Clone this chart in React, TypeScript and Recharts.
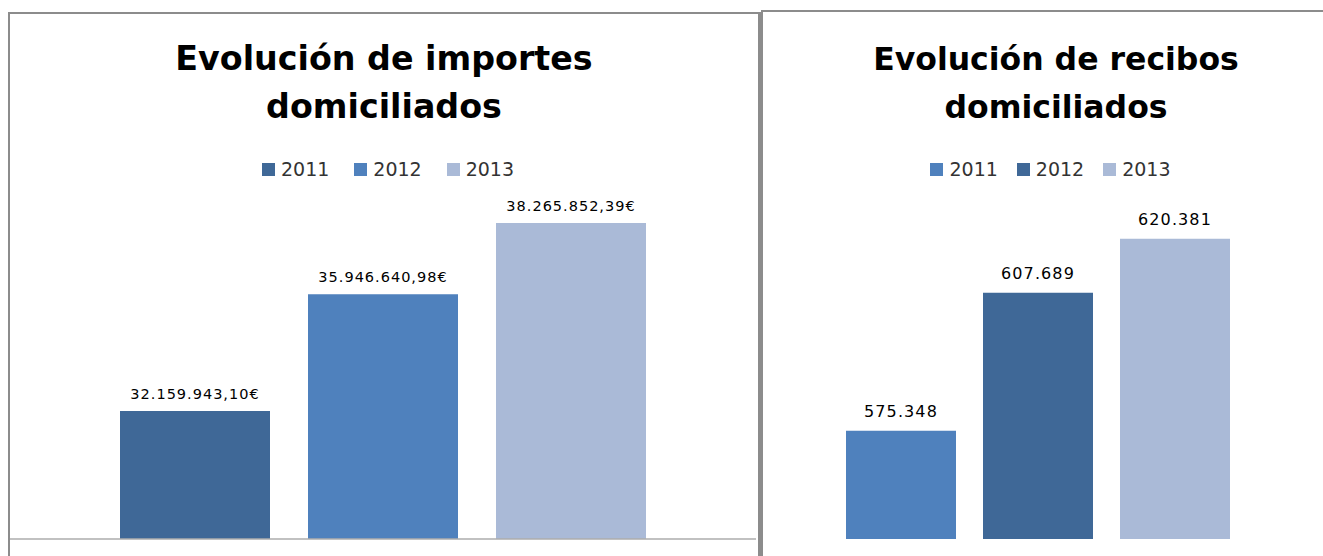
import React from 'react';
import { BarChart, Bar, XAxis, YAxis, Legend, LabelList } from 'recharts';

const years = ['2011', '2012', '2013'];
const importes = [32159943.1, 35946640.98, 38265852.39];
const recibos = [575348, 607689, 620381];
const importesColors = ['#3F6897', '#4F81BD', '#AABAD7'];
const recibosColors = ['#4F81BD', '#3F6897', '#AABAD7'];
const importesDomain = [28000000, 40000000];
const recibosDomain = [550000, 640000];
const titleImportes = ['Evolución de importes', 'domiciliados'];
const titleRecibos = ['Evolución de recibos', 'domiciliados'];

function fmtEs(v: number, decimals: number): string {
  const s = v.toFixed(decimals);
  const [int, dec] = s.split('.');
  const withDots = int.replace(/\B(?=(\d{3})+(?!\d))/g, '.');
  return dec ? withDots + ',' + dec : withDots;
}

function buildRow(values: number[]) {
  const row: Record<string, number | string> = { cat: '' };
  years.forEach((y, i) => {
    row['y' + y] = values[i];
  });
  return [row];
}

const FONT = '"DejaVu Sans", sans-serif';

function LegendBox({ colors, gap }: { colors: string[]; gap: number }) {
  return (
    <div
      style={{
        display: 'flex',
        justifyContent: 'center',
        alignItems: 'center',
        height: 22,
        fontFamily: FONT,
        fontSize: 19,
        color: '#333333',
      }}
    >
      {years.map((y, i) => (
        <div
          key={y}
          style={{ display: 'flex', alignItems: 'center', marginLeft: i === 0 ? 0 : gap }}
        >
          <div style={{ width: 13, height: 13, background: colors[i], marginRight: 6 }} />
          <span style={{ lineHeight: '22px' }}>{y}</span>
        </div>
      ))}
    </div>
  );
}

function Title({
  lines,
  top,
  padRight,
  fontSize,
}: {
  lines: string[];
  top: number;
  padRight: number;
  fontSize: number;
}) {
  return (
    <div
      style={{
        position: 'absolute',
        left: 0,
        top,
        width: '100%',
        boxSizing: 'border-box',
        paddingRight: padRight,
        textAlign: 'center',
        fontFamily: FONT,
        fontWeight: 'bold',
        fontSize,
        lineHeight: '48px',
        color: '#000',
        whiteSpace: 'nowrap',
      }}
    >
      {lines.map((l) => (
        <div key={l}>{l}</div>
      ))}
    </div>
  );
}

export default function App() {
  const leftData = buildRow(importes);
  const rightData = buildRow(recibos);
  return (
    <div
      style={{
        position: 'absolute',
        left: 0,
        top: 0,
        width: 1323,
        height: 556,
        overflow: 'hidden',
        background: '#fff',
      }}
    >
      {/* Left chart box */}
      <div
        style={{
          position: 'absolute',
          left: 8,
          top: 12,
          width: 753,
          height: 560,
          boxSizing: 'border-box',
          borderLeft: '2px solid #8C8C8C',
          borderTop: '2px solid #8C8C8C',
          borderRight: '3px solid #8C8C8C',
        }}
      >
        <Title lines={titleImportes} top={20.6} padRight={0} fontSize={33.3} />
        <div style={{ position: 'absolute', left: 0, top: 0 }}>
          <BarChart
            width={748}
            height={542}
            data={leftData}
            margin={{ top: 155.5, right: 2, bottom: 16, left: 0 }}
            barGap={38}
          >
            <XAxis
              dataKey="cat"
              tick={false}
              tickLine={false}
              height={1}
              axisLine={{ stroke: '#ADADAD', strokeWidth: 1.5 }}
            />
            <YAxis hide width={0} type="number" domain={importesDomain} allowDataOverflow />
            <Legend
              verticalAlign="middle"
              align="center"
              wrapperStyle={{ top: 144, left: 4, width: 748 }}
              content={() => <LegendBox colors={importesColors} gap={25} />}
            />
            {years.map((y, i) => (
              <Bar
                key={y}
                dataKey={'y' + y}
                name={y}
                fill={importesColors[i]}
                barSize={150}
                isAnimationActive={false}
              >
                <LabelList
                  dataKey={'y' + y}
                  position="top"
                  offset={12}
                  formatter={(v: any) => fmtEs(Number(v), 2) + '€'}
                  fill="#000"
                  fontSize={14.5}
                  fontFamily={FONT}
                  letterSpacing={1}
                />
              </Bar>
            ))}
          </BarChart>
        </div>
      </div>

      {/* Right chart box */}
      <div
        style={{
          position: 'absolute',
          left: 761,
          top: 10,
          width: 600,
          height: 560,
          boxSizing: 'border-box',
          borderLeft: '2px solid #8C8C8C',
          borderTop: '2px solid #8C8C8C',
        }}
      >
        <Title lines={titleRecibos} top={22.6} padRight={12} fontSize={31.5} />
        <div style={{ position: 'absolute', left: 0, top: 0 }}>
          <BarChart
            width={560}
            height={544}
            data={rightData}
            margin={{ top: 143, right: 11, bottom: 17, left: 0 }}
            barGap={27}
          >
            <XAxis dataKey="cat" hide height={0} />
            <YAxis hide width={0} type="number" domain={recibosDomain} allowDataOverflow />
            <Legend
              verticalAlign="middle"
              align="center"
              wrapperStyle={{ top: 146, left: 7.5, width: 560 }}
              content={() => <LegendBox colors={recibosColors} gap={19} />}
            />
            {years.map((y, i) => (
              <Bar
                key={y}
                dataKey={'y' + y}
                name={y}
                fill={recibosColors[i]}
                barSize={110}
                isAnimationActive={false}
              >
                <LabelList
                  dataKey={'y' + y}
                  position="top"
                  offset={14}
                  formatter={(v: any) => fmtEs(Number(v), 0)}
                  fill="#000"
                  fontSize={16}
                  fontFamily={FONT}
                  letterSpacing={1.1}
                />
              </Bar>
            ))}
          </BarChart>
        </div>
      </div>
    </div>
  );
}
